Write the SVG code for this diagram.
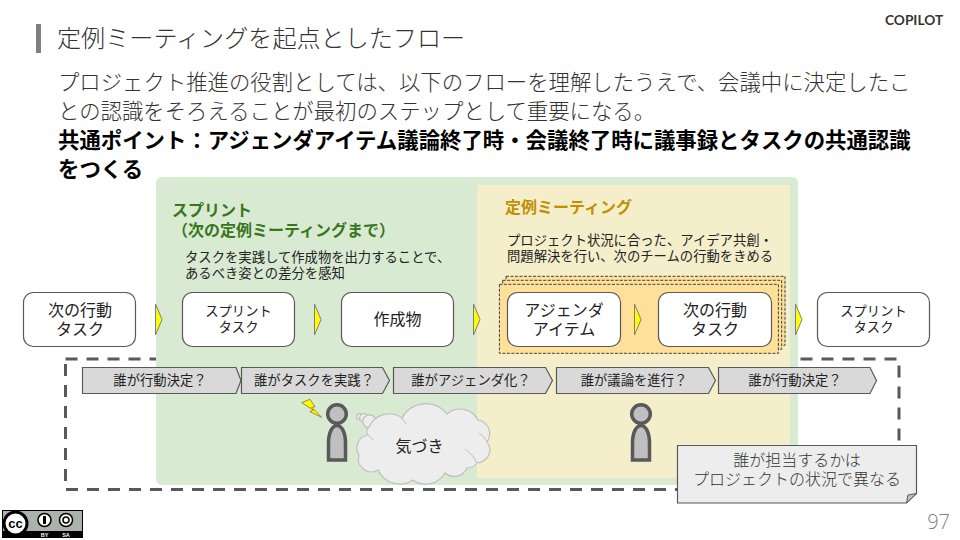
<svg xmlns="http://www.w3.org/2000/svg" width="960" height="540" viewBox="0 0 960 540">
<style>
text{font-family:"Noto Sans CJK JP","Noto Sans",sans-serif;fill:#222}
.l{font-weight:300;fill:#333}
.b{font-weight:700;fill:#000}
.c{text-anchor:middle}
.box{fill:#fff;stroke:#595959;stroke-width:1.2}
.tri{fill:#ff0;stroke:#7f7f7f;stroke-width:1}
.pent{fill:#d9d9d9;stroke:#595959;stroke-width:1.2}
.st{fill:#ffe099;stroke:#404040;stroke-width:1;stroke-dasharray:3 1.500}
.t16{font-size:16px}
.t13{font-size:13.33px}
.head{fill:#bfbfbf;stroke:#595959;stroke-width:3.5}
.cl{fill:#ededed;stroke:#bfbfbf;stroke-width:1.200}
</style>
<g id="header">
<rect x="36" y="24" width="5" height="29" fill="#7f7f7f"/>
<text x="57" y="46.500" font-size="24.100" class="l">定例ミーティングを起点としたフロー</text>
<text x="885" y="25" font-size="13.700" font-weight="700" style="font-family:'Lato',sans-serif;fill:#3a3230">COPILOT</text>
</g>
<g id="body-text">
<text x="58" y="90" font-size="21.380" class="l">プロジェクト推進の役割としては、以下のフローを理解したうえで、会議中に決定したこ</text>
<text x="58" y="118.500" font-size="21.380" class="l">との認識をそろえることが最初のステップとして重要になる。</text>
<text x="58" y="148" font-size="21.400" class="b">共通ポイント：アジェンダアイテム議論終了時・会議終了時に議事録とタスクの共通認識</text>
<text x="58" y="177" font-size="21.400" class="b">をつくる</text>
</g>
<rect id="scope-frame" x="65.500" y="359" width="833.500" height="130.500" fill="none" stroke="#595959" stroke-width="3" stroke-dasharray="12 9"/>
<g id="sprint-panel">
<rect x="156" y="177" width="642" height="308" rx="6" fill="#d9ead3"/>
<text x="172" y="216" class="t16" font-weight="700" style="fill:#38761d">スプリント</text>
<text x="172" y="236" class="t16" font-weight="700" style="fill:#38761d">（次の定例ミーティングまで）</text>
<text x="185" y="262" class="t13">タスクを実践して作成物を出力することで、</text>
<text x="185" y="278" class="t13">あるべき姿との差分を感知</text>
</g>
<g id="meeting-panel">
<rect x="477" y="185" width="313" height="293" fill="#f5eecb"/>
<text x="505" y="213" class="t16" font-weight="700" style="fill:#bf9000">定例ミーティング</text>
<text x="507" y="245" class="t13">プロジェクト状況に合った、アイデア共創・</text>
<text x="507" y="261" class="t13">問題解決を行い、次のチームの行動をきめる</text>
</g>
<g id="stack">
<rect class="st" x="506" y="276.300" width="279" height="69"/>
<rect class="st" x="502.700" y="280.300" width="279" height="69"/>
<rect class="st" x="499.400" y="284.300" width="279" height="69"/>
</g>
<g id="connectors">
<path class="tri" d="M155.500 304V335L162 319.500Z"/>
<path class="tri" d="M314.500 304V335L321 319.500Z"/>
<path class="tri" d="M473.500 304V335L480 319.500Z"/>
<path class="tri" d="M634.500 304V335L641 319.500Z"/>
<path class="tri" d="M795.500 304V335L802 319.500Z"/>
</g>
<g id="n1"><rect class="box" x="23.500" y="292.500" width="112" height="54" rx="10"/><text class="c t16" x="80" y="316">次の行動</text><text class="c t16" x="80" y="335">タスク</text></g>
<g id="n2"><rect class="box" x="182.500" y="292.500" width="112" height="54" rx="10"/><text class="c t13" x="238.500" y="316">スプリント</text><text class="c t13" x="238.500" y="332">タスク</text></g>
<g id="n3"><rect class="box" x="341.500" y="292.500" width="112" height="54" rx="10"/><text class="c t16" x="397.500" y="325">作成物</text></g>
<g id="n4"><rect class="box" x="507.500" y="292.500" width="113" height="54" rx="10"/><text class="c t16" x="564" y="316">アジェンダ</text><text class="c t16" x="564" y="335">アイテム</text></g>
<g id="n5"><rect class="box" x="658.500" y="292.500" width="113" height="54" rx="10"/><text class="c t16" x="715" y="316">次の行動</text><text class="c t16" x="715" y="335">タスク</text></g>
<g id="n6"><rect class="box" x="817.500" y="292.500" width="112" height="54" rx="10"/><text class="c t13" x="873.500" y="316">スプリント</text><text class="c t13" x="873.500" y="332">タスク</text></g>
<g id="p1"><path class="pent" d="M82.500 367.500H236L241 380.500L236 393.500H82.500Z"/><text class="c t13" x="160" y="385">誰が行動決定？</text></g>
<g id="p2"><path class="pent" d="M241.500 367.500H382.500L389.500 380.500L382.500 393.500H241.500Z"/><text class="c t13" x="314" y="385">誰がタスクを実践？</text></g>
<g id="p3"><path class="pent" d="M393.500 367.500H545.500L552.500 380.500L545.500 393.500H393.500Z"/><text class="c t13" x="471" y="385">誰がアジェンダ化？</text></g>
<g id="p4"><path class="pent" d="M556.500 367.500H708.500L715.500 380.500L708.500 393.500H556.500Z"/><text class="c t13" x="634" y="385">誰が議論を進行？</text></g>
<g id="p5"><path class="pent" d="M718.500 367.500H870L876.500 380.500L870 393.500H718.500Z"/><text class="c t13" x="795" y="385">誰が行動決定？</text></g>
<g id="person1">
<circle class="head" cx="337" cy="414" r="9.300"/>
<path class="head" d="M328.500 460V443C328.500 432 332.500 425.500 337 425.500C341.500 425.500 345.500 432 345.500 443V460Z"/>
<path d="M301.700 402.700L310 399.300L315 406.700L311.700 407.300L321.700 417.300L310 411.700L313.300 410Z" fill="#ff0" stroke="#7f6000" stroke-width="0.700"/>
</g>
<g id="person2">
<circle class="head" cx="641" cy="414" r="9.300"/>
<path class="head" d="M632.500 460V443C632.500 432 636.500 425.500 641 425.500C645.500 425.500 649.500 432 649.500 443V460Z"/>
</g>
<g id="cloud">
<circle class="cl" cx="359.500" cy="416.500" r="2.800"/>
<circle class="cl" cx="364" cy="418" r="4.300"/>
<circle class="cl" cx="369.500" cy="421.500" r="6.700"/>
<path class="cl" d="M369 427A22 22 0 0 1 402 418A27 27 0 0 1 447 414A20 20 0 0 1 478 420A14 14 0 0 1 487 442A13 13 0 0 1 477 463A13 13 0 0 1 467 468A14 14 0 0 1 445 473A22 22 0 0 1 413 480A24 24 0 0 1 378 470A13 13 0 0 1 359 455A13 13 0 0 1 368 435A6 6 0 0 1 369 427Z"/>
<path d="M465 449Q474 455 477 463M487 442Q484 436 479 433M402 418Q404 421 406 424M368 435Q371 437 373 440" fill="none" stroke="#bfbfbf" stroke-width="1"/>
<text class="c t16" x="419.500" y="452">気づき</text>
</g>
<g id="note">
<path d="M677.500 445.500H916.500V493.500L906.500 503H677.500Z" fill="#ededed" stroke="#595959" stroke-width="1.200"/>
<path d="M916.500 493.500L906.500 503L908 495Z" fill="#bfbfbf" stroke="#595959" stroke-width="1"/>
<text class="c t16 l" x="797" y="466">誰が担当するかは</text>
<text class="c t16 l" x="797" y="485">プロジェクトの状況で異なる</text>
</g>
<g id="license">
<rect x="2.500" y="510.500" width="80" height="27" fill="#aab2ab" stroke="#000"/>
<rect x="3" y="531" width="79" height="6" fill="#000"/>
<circle cx="15.500" cy="523.500" r="11.500" fill="#fff" stroke="#000" stroke-width="3"/>
<text class="c" x="15.500" y="528" font-size="13" font-weight="700" style="font-family:'Liberation Sans',sans-serif;fill:#000">cc</text>
<circle cx="44.500" cy="520" r="6.500" fill="#fff" stroke="#000" stroke-width="1.500"/>
<rect x="43" y="516" width="3" height="8" fill="#000"/>
<circle cx="66" cy="520" r="6.500" fill="#fff" stroke="#000" stroke-width="1.500"/>
<circle cx="66" cy="520" r="3" fill="none" stroke="#000" stroke-width="1.500"/>
<text class="c" x="44.500" y="536.500" font-size="5.500" font-weight="700" style="font-family:'Liberation Sans',sans-serif;fill:#fff">BY</text>
<text class="c" x="66" y="536.500" font-size="5.500" font-weight="700" style="font-family:'Liberation Sans',sans-serif;fill:#fff">SA</text>
</g>
<text id="page" x="950" y="529" text-anchor="end" font-size="20" font-weight="300" style="font-family:'Open Sans',sans-serif;fill:#7f7f7f">97</text>
</svg>
